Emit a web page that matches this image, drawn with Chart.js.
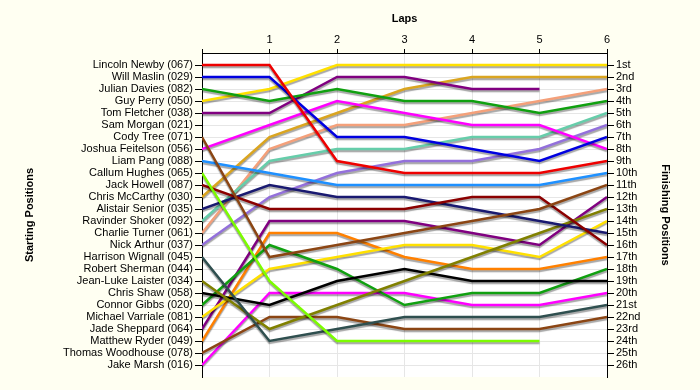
<!DOCTYPE html>
<html lang="en">
<head>
    <meta charset="UTF-8">
    <title>Race positions</title>
    <script src="https://cdn.jsdelivr.net/npm/chart.js"></script>
    <style>
        body { margin: 0; background: #fffff2; }
        canvas { display: block; }
    </style>
</head>
<body>
    <canvas id="raceChart" width="700" height="390"></canvas>
    <script>
        // laps on the x axis
        const laps = [0, 1, 2, 3, 4, 5, 6];

        // left axis labels, in starting order
        const startNames = [
            'Lincoln Newby (067)', 'Will Maslin (029)', 'Julian Davies (082)', 'Guy Perry (050)',
            'Tom Fletcher (038)', 'Sam Morgan (021)', 'Cody Tree (071)', 'Joshua Feitelson (056)',
            'Liam Pang (088)', 'Callum Hughes (065)', 'Jack Howell (087)', 'Chris McCarthy (030)',
            'Alistair Senior (035)', 'Ravinder Shoker (092)', 'Charlie Turner (061)', 'Nick Arthur (037)',
            'Harrison Wignall (045)', 'Robert Sherman (044)', 'Jean-Luke Laister (034)', 'Chris Shaw (058)',
            'Connor Gibbs (020)', 'Michael Varriale (081)', 'Jade Sheppard (064)', 'Matthew Ryder (049)',
            'Thomas Woodhouse (078)', 'Jake Marsh (016)'
        ];

        // right axis labels
        const finishLabels = [
            '1st', '2nd', '3rd', '4th', '5th', '6th', '7th', '8th', '9th', '10th', '11th', '12th', '13th',
            '14th', '15th', '16th', '17th', '18th', '19th', '20th', '21st', '22nd', '23rd', '24th', '25th', '26th'
        ];

        // position after each lap (null = retired)
        const lincolnNewby    = [1, 1, 9, 10, 10, 10, 9];
        const willMaslin      = [2, 2, 7, 7, 8, 9, 7];
        const julianDavies    = [3, 4, 3, 4, 4, 5, 4];
        const guyPerry        = [4, 3, 1, 1, 1, 1, 1];
        const tomFletcher     = [5, 5, 2, 2, 3, 3, null];
        const codyTree        = [7, 17, 16, 15, 14, 13, 11];
        const joshuaFeitelson = [8, 6, 4, 5, 6, 6, 8];
        const liamPang        = [9, 10, 11, 11, 11, 11, 10];
        const callumHughes    = [10, 19, 24, 24, 24, 24, null];
        const jackHowell      = [11, 13, 13, 13, 12, 12, 16];
        const chrisMcCarthy   = [12, 7, 5, 3, 2, 2, 2];
        const alistairSenior  = [13, 11, 12, 12, 13, 14, 15];
        const ravinderShoker  = [14, 9, 8, 8, 7, 7, 5];
        const charlieTurner   = [15, 8, 6, 6, 5, 4, 3];
        const nickArthur      = [16, 12, 10, 9, 9, 8, 6];
        const harrisonWignall = [17, 24, 23, 22, 22, 22, 21];
        const jeanLukeLaister = [19, 23, 21, 19, 17, 15, 13];
        const chrisShaw       = [20, 21, 19, 18, 19, 19, 19];
        const connorGibbs     = [21, 16, 18, 21, 20, 20, 18];
        const michaelVarriale = [22, 18, 17, 16, 16, 17, 14];
        const jadeSheppard    = [23, 14, 14, 14, 15, 16, 12];
        const matthewRyder    = [24, 15, 15, 17, 18, 18, 17];
        const thomasWoodhouse = [25, 22, 22, 23, 23, 23, 22];
        const jakeMarsh       = [26, 20, 20, 20, 21, 21, 20];

        const drivers = [
            ['Lincoln Newby', lincolnNewby, '#ee0000'],
            ['Will Maslin', willMaslin, '#0000e0'],
            ['Julian Davies', julianDavies, '#10a010'],
            ['Guy Perry', guyPerry, '#ffe000'],
            ['Tom Fletcher', tomFletcher, '#800080'],
            ['Cody Tree', codyTree, '#8b4513'],
            ['Joshua Feitelson', joshuaFeitelson, '#ff00ff'],
            ['Liam Pang', liamPang, '#1e90ff'],
            ['Callum Hughes', callumHughes, '#7cfc00'],
            ['Jack Howell', jackHowell, '#8b0000'],
            ['Chris McCarthy', chrisMcCarthy, '#daa520'],
            ['Alistair Senior', alistairSenior, '#191970'],
            ['Ravinder Shoker', ravinderShoker, '#66cdaa'],
            ['Charlie Turner', charlieTurner, '#f4a07a'],
            ['Nick Arthur', nickArthur, '#9370db'],
            ['Harrison Wignall', harrisonWignall, '#2f4f4f'],
            ['Jean-Luke Laister', jeanLukeLaister, '#808000'],
            ['Chris Shaw', chrisShaw, '#000000'],
            ['Connor Gibbs', connorGibbs, '#10a010'],
            ['Michael Varriale', michaelVarriale, '#ffe000'],
            ['Jade Sheppard', jadeSheppard, '#800080'],
            ['Matthew Ryder', matthewRyder, '#ff8000'],
            ['Thomas Woodhouse', thomasWoodhouse, '#8b4513'],
            ['Jake Marsh', jakeMarsh, '#ff00ff']
        ];

        const positionTicks = finishLabels.map((l, i) => ({ value: i + 1 }));

        // white plot area on an ivory page
        const background = {
            id: 'background',
            beforeDraw(chart) {
                const { ctx, chartArea: a } = chart;
                ctx.save();
                ctx.fillStyle = '#fffff2';
                ctx.fillRect(0, 0, chart.width, chart.height);
                ctx.fillStyle = '#ffffff';
                ctx.fillRect(a.left, a.top, a.right - a.left, a.bottom - a.top);
                ctx.restore();
            }
        };

        // grey drop shadow under every line
        const shadow = {
            id: 'shadow',
            beforeDatasetsDraw(chart) {
                const ctx = chart.ctx;
                ctx.save();
                ctx.shadowColor = 'rgba(0,0,0,0.35)';
                ctx.shadowOffsetX = 0;
                ctx.shadowOffsetY = 2;
                ctx.shadowBlur = 1;
            },
            afterDatasetsDraw(chart) {
                chart.ctx.restore();
            }
        };

        const font = { family: '"Liberation Sans", Arial, sans-serif', size: 11 };
        const titleFont = { family: '"Liberation Sans", Arial, sans-serif', size: 11, weight: 'bold' };

        new Chart(document.getElementById('raceChart'), {
            type: 'line',
            data: {
                datasets: drivers.map(([name, pos, color]) => ({
                    label: name,
                    data: laps.map((lap, i) => ({ x: lap, y: pos[i] })),
                    borderColor: color,
                    borderWidth: 2.5,
                    pointRadius: 0,
                    tension: 0,
                    fill: false
                }))
            },
            options: {
                responsive: false,
                animation: false,
                layout: { padding: { left: 19, right: 24, top: 8, bottom: 13 } },
                plugins: { legend: { display: false }, tooltip: { enabled: false } },
                scales: {
                    x: {
                        type: 'linear',
                        position: 'top',
                        min: 0,
                        max: 6,
                        afterFit: s => { s.height = 45; },
                        ticks: {
                            stepSize: 1,
                            color: '#000',
                            font: font,
                            padding: 2,
                            maxRotation: 0,
                            callback: v => v === 0 ? '' : v
                        },
                        grid: { color: '#e6e6e6', tickColor: '#000', tickLength: 4 },
                        border: { color: '#000' },
                        title: { display: true, text: 'Laps', color: '#000', font: titleFont }
                    },
                    y: {
                        type: 'linear',
                        position: 'left',
                        reverse: true,
                        min: 0,
                        max: 27,
                        afterFit: s => { s.width = 202 - 19; },
                        afterBuildTicks: s => { s.ticks = positionTicks.map(t => ({ value: t.value })); },
                        ticks: {
                            color: '#000',
                            font: font,
                            padding: 2,
                            autoSkip: false,
                            callback: v => startNames[v - 1]
                        },
                        grid: { color: '#e6e6e6', tickColor: '#000', tickLength: 7 },
                        border: { color: '#000' },
                        title: { display: true, text: 'Starting Positions', color: '#000', font: titleFont }
                    },
                    y2: {
                        type: 'linear',
                        position: 'right',
                        reverse: true,
                        min: 0,
                        max: 27,
                        afterFit: s => { s.width = 700 - 24 - 607; },
                        afterBuildTicks: s => { s.ticks = positionTicks.map(t => ({ value: t.value })); },
                        ticks: {
                            color: '#000',
                            font: font,
                            padding: 2,
                            autoSkip: false,
                            callback: v => finishLabels[v - 1]
                        },
                        grid: { drawOnChartArea: false, tickColor: '#000', tickLength: 7 },
                        border: { color: '#000' },
                        title: { display: true, text: 'Finishing Positions', color: '#000', font: titleFont }
                    }
                }
            },
            plugins: [background, shadow]
        });
    </script>
</body>
</html>
